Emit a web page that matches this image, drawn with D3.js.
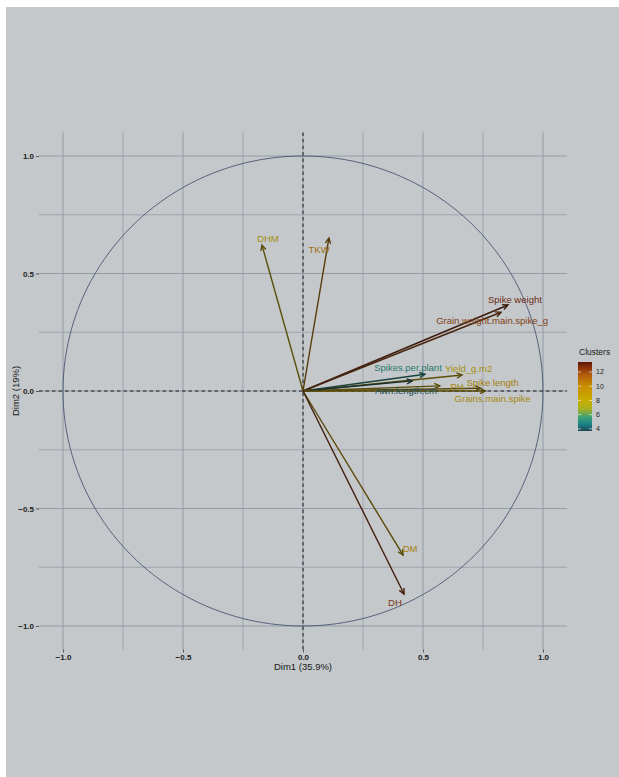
<!DOCTYPE html>
<html><head><meta charset="utf-8">
<script src="https://cdn.jsdelivr.net/npm/d3@7/dist/d3.min.js"></script>
<style>body{margin:0;background:#fff;} text{font-family:"Liberation Sans",Arial,sans-serif;}</style>
</head><body>
<svg id="c" width="619" height="777"></svg>
<script>
// ---- data ----
const variables = ["DHM","TKW","Spike weight","Grain.weight.main.spike_g","Spikes.per.plant","Yield_g.m2","PH","Spike length","Awn.length.cm","Grains.main.spike","DM","DH"];
const dim1 = [-0.171, 0.108, 0.854, 0.825, 0.508, 0.663, 0.57, 0.74, 0.455, 0.76, 0.417, 0.421];
const dim2 = [0.621, 0.651, 0.366, 0.335, 0.071, 0.068, 0.022, 0.012, 0.043, 0.000, -0.698, -0.864];
const clusters = [8, 10.5, 12.8, 12.2, 5, 8, 8.5, 9.5, 4, 8.5, 9, 12.5];
// label positions (data units, as placed by the repel step)
const labelX = [-0.146, 0.067, 0.883, 0.788, 0.4375, 0.69, 0.642, 0.79, 0.429, 0.79, 0.446, 0.383];
const labelY = [0.647, 0.604, 0.391, 0.302, 0.098, 0.094, 0.019, 0.036, 0.002, -0.031, -0.672, -0.902];
const ticks = [-1.0, -0.5, 0.0, 0.5, 1.0];
const minorTicks = [-0.75, -0.25, 0.25, 0.75];
const legendTicks = [4, 6, 8, 10, 12];
const xTitle = "Dim1 (35.9%)", yTitle = "Dim2 (19%)", legendTitle = "Clusters";

// ---- drawing ----
const svg = d3.select("#c");
svg.append("rect").attr("x",6).attr("y",7).attr("width",613).attr("height",770).attr("fill","#c4c8ca");

const x = d3.scaleLinear([-1.1,1.1],[39,567]);
const y = d3.scaleLinear([-1.1,1.1],[649.5,132.5]);
const colStops = [[3.7,"#1a4450"],[4.6,"#1b7f86"],[5.6,"#3aa27a"],[6.8,"#a8b020"],[8,"#c9ad00"],[10,"#c88f00"],[11.5,"#b4600c"],[12.6,"#8c3008"],[13.4,"#5a1704"]];
const color = d3.scaleLinear(colStops.map(d=>d[0]), colStops.map(d=>d[1])).clamp(true);
const gridCol = "#8f96a6";

const g = svg.append("g");
// grid
[...ticks, ...minorTicks].forEach(t=>{
  g.append("line").attr("x1",x(-1.1)).attr("x2",x(1.1)).attr("y1",y(t)).attr("y2",y(t)).attr("stroke",gridCol).attr("stroke-width",ticks.includes(t)?0.9:0.7);
  g.append("line").attr("y1",y(-1.1)).attr("y2",y(1.1)).attr("x1",x(t)).attr("x2",x(t)).attr("stroke",gridCol).attr("stroke-width",ticks.includes(t)?0.9:0.7);
});
// axes
const xAxis = d3.axisBottom(x).tickValues(ticks).tickFormat(d3.format(".1f")).tickSize(3).tickPadding(2);
const yAxis = d3.axisLeft(y).tickValues(ticks).tickFormat(d3.format(".1f")).tickSize(3).tickPadding(2);
const ax = svg.append("g").attr("transform",`translate(0,${y(-1.1)})`).call(xAxis);
const ay = svg.append("g").attr("transform",`translate(${x(-1.1)},0)`).call(yAxis);
[ax,ay].forEach(a=>{
  a.select(".domain").remove();
  a.selectAll("line").attr("stroke","#555");
  a.selectAll("text").attr("fill","#222").attr("font-size",8).attr("font-weight","bold");
});
svg.append("text").attr("x",x(0)).attr("y",670).attr("text-anchor","middle").attr("font-size",9.5).attr("fill","#1a1a1a").text(xTitle);
svg.append("text").attr("transform",`translate(19,${y(0)}) rotate(-90)`).attr("text-anchor","middle").attr("font-size",9.5).attr("fill","#1a1a1a").text(yTitle);

// circle
const circ = d3.range(0,361,2).map(a=>[Math.cos(a*Math.PI/180),Math.sin(a*Math.PI/180)]);
g.append("path").attr("d",d3.line().x(d=>x(d[0])).y(d=>y(d[1]))(circ)).attr("fill","none").attr("stroke","#3c4868").attr("stroke-width",0.8);
// dashed zero lines
g.append("line").attr("x1",x(-1.1)).attr("x2",x(1.1)).attr("y1",y(0)).attr("y2",y(0)).attr("stroke","#1a1a1a").attr("stroke-dasharray","3.5,3").attr("stroke-width",1);
g.append("line").attr("y1",y(-1.1)).attr("y2",y(1.1)).attr("x1",x(0)).attr("x2",x(0)).attr("stroke","#1a1a1a").attr("stroke-dasharray","3.5,3").attr("stroke-width",1);

// arrows
const defs = svg.append("defs");
variables.forEach((v,i)=>{
  const c = color(clusters[i]);
  const x1=x(0), y1=y(0), x2=x(dim1[i]), y2=y(dim2[i]);
  const ang = Math.atan2(y2-y1,x2-x1), L=6, a=0.45;
  const arrowD = d3.path();
  arrowD.moveTo(x2-L*Math.cos(ang-a), y2-L*Math.sin(ang-a));
  arrowD.lineTo(x2,y2);
  arrowD.lineTo(x2-L*Math.cos(ang+a), y2-L*Math.sin(ang+a));
  const dark = d3.interpolateRgb(c,"#111")(0.6);
  g.append("line").attr("x1",x1).attr("y1",y1).attr("x2",x2).attr("y2",y2).attr("stroke",dark).attr("stroke-width",1.4);
  g.append("path").attr("d",arrowD.toString()).attr("fill","none").attr("stroke",dark).attr("stroke-width",1.4);
});
variables.forEach((v,i)=>{
  g.append("text").attr("x",x(labelX[i])).attr("y",y(labelY[i])).attr("text-anchor","middle").attr("dominant-baseline","central")
   .attr("font-size",9.5).attr("fill",d3.interpolateRgb(color(clusters[i]),"#333")(0.25)).text(v);
});

// legend
const lx=578, lw=14, lTop=362, lBot=431;
const ly = d3.scaleLinear([3.7,13.4],[lBot,lTop]);
const grad = defs.append("linearGradient").attr("id","lg").attr("x1",0).attr("x2",0).attr("y1",1).attr("y2",0);
colStops.forEach(s=>grad.append("stop").attr("offset",(s[0]-3.7)/(13.4-3.7)).attr("stop-color",s[1]));
svg.append("rect").attr("x",lx).attr("y",lTop).attr("width",lw).attr("height",lBot-lTop).attr("fill","url(#lg)");
legendTicks.forEach(t=>{
  svg.append("line").attr("x1",lx).attr("x2",lx+3).attr("y1",ly(t)).attr("y2",ly(t)).attr("stroke","#fff").attr("stroke-width",0.6);
  svg.append("line").attr("x1",lx+lw-3).attr("x2",lx+lw).attr("y1",ly(t)).attr("y2",ly(t)).attr("stroke","#fff").attr("stroke-width",0.6);
  svg.append("text").attr("x",lx+lw+4).attr("y",ly(t)).attr("dominant-baseline","central").attr("font-size",7).attr("fill","#222").text(t);
});
svg.append("text").attr("x",lx+1).attr("y",355).attr("font-size",8.5).attr("fill","#1a1a1a").text(legendTitle);
</script>
</body></html>
